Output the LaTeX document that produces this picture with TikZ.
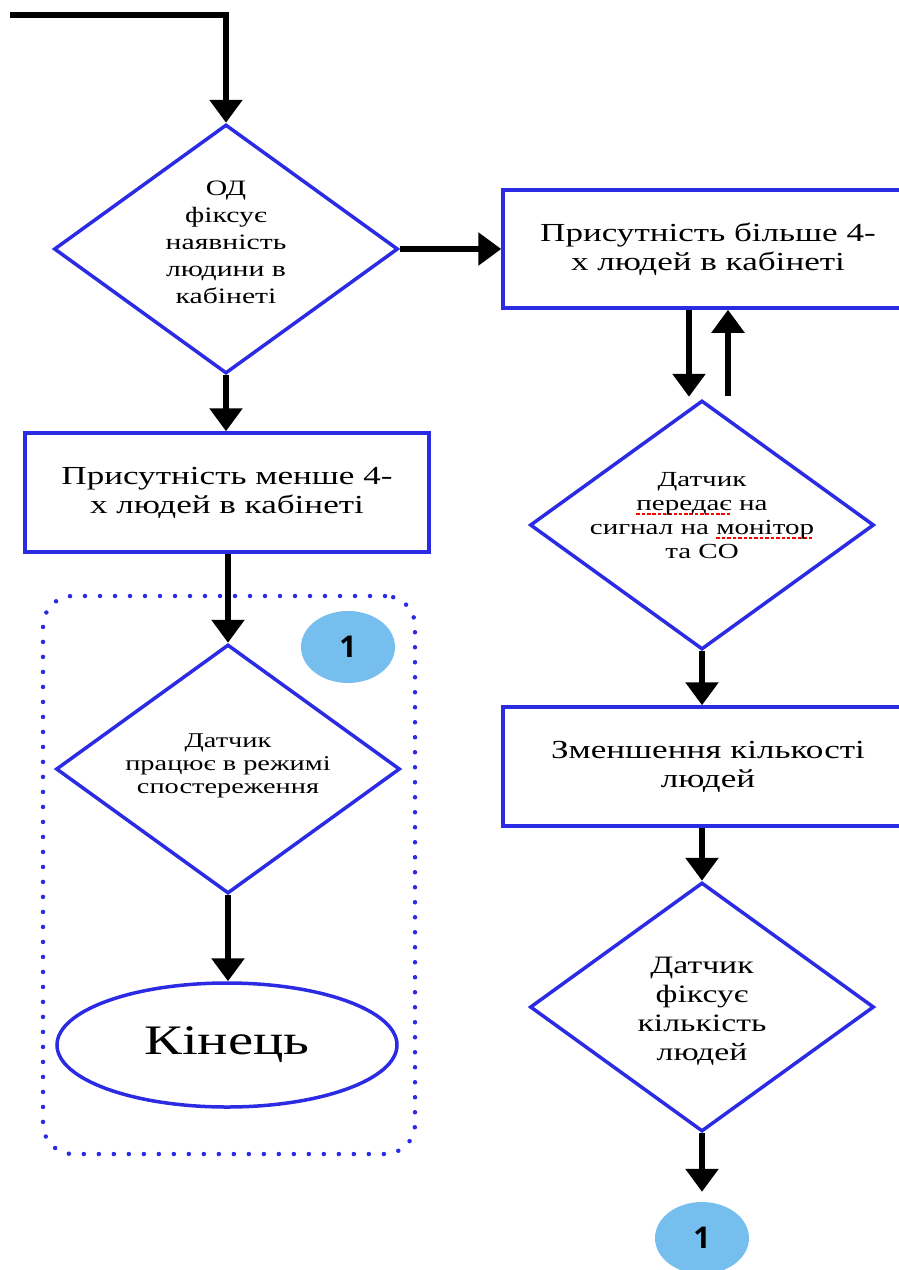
\documentclass[tikz,border=0pt]{standalone}
\usepackage{fontspec}
\setmainfont[FakeStretch=1.35]{Liberation Serif}
\newfontfamily\numfont{Open Sans}
\usetikzlibrary{arrows.meta,shapes.geometric}
\definecolor{frame}{HTML}{2B2BE3}
\definecolor{bubble}{HTML}{75BEEE}
% red spell-check dashes under a word
\newsavebox\spellbox
\newcommand\spellmark[1]{\sbox\spellbox{#1}\rlap{\color{red}\hbox to \wd\spellbox{\xleaders\hbox{\rule[-4pt]{3.5pt}{1.6pt}\kern1.8pt}\hfil}}\usebox\spellbox}

\begin{document}
\begin{tikzpicture}[x=1pt,y=-1pt,
  arr/.style={line width=6pt,-{Triangle[width=32pt,length=23pt]}},
  stepbox/.style={draw=frame,line width=3.5pt,rectangle,minimum height=119pt,inner sep=0pt,
    align=center,font=\fontsize{26}{29}\selectfont},
  dec/.style={draw=frame,line width=3.5pt,diamond,minimum width=344pt,minimum height=249pt,inner sep=0pt},
  txt/.style={align=center,inner sep=0pt},
  conn/.style={ellipse,fill=bubble,minimum width=94pt,minimum height=72pt,inner sep=0pt,
    font=\numfont\bfseries\fontsize{30}{30}\selectfont},
  grp/.style={draw=frame,line width=4.5pt,rounded corners=30pt,dash pattern=on 0pt off 15pt,line cap=round}
]
\useasboundingbox (0,0) rectangle (899,1270);

% grouping frame on the left
\node[grp,minimum width=372pt,minimum height=558pt] (grp) at (229,875) {};

% left column
\coordinate (start) at (10,15);
\node[dec,label={[txt,yshift=7pt,font=\fontsize{22}{27}\selectfont]center:{ОД\\фіксує\\наявність\\людини в\\кабінеті}}] (d1) at (226,249) {};
\node[stepbox,minimum width=404pt] (box1) at (227,492.5) {Присутність менше 4-\\х людей в кабінеті};
\node[dec,label={[txt,yshift=3pt,font=\fontsize{21}{23}\selectfont]center:{Датчик\\працює в режимі\\спостереження}}] (d4) at (228,769) {};
\node[ellipse,draw=frame,line width=3.5pt,minimum width=340pt,minimum height=124pt,inner sep=0pt,
  font=\fontsize{42}{42}\selectfont] (endn) at (227,1045) {Кінець};
\node[conn] (c1) at (348,647) {1};

% right column
\node[stepbox,minimum width=410pt,minimum height=118pt] (box2) at (708,249) {Присутність більше 4-\\х людей в кабінеті};
\node[dec,label={[txt,yshift=9pt,font=\fontsize{21.5}{24}\selectfont]center:{Датчик\\\spellmark{передає} на\\сигнал на \spellmark{монітор}\\та СО}}] (d2) at (702,525) {};
\node[stepbox,minimum width=410pt] (box3) at (708,766.5) {Зменшення кількості\\людей};
\node[dec,label={[txt,yshift=-4pt,font=\fontsize{25}{29}\selectfont]center:{Датчик\\фіксує\\кількість\\людей}}] (d3) at (702,1007) {};
\node[conn] (c2) at (702,1238) {1};

% connectors
\draw[arr] (start) -| (d1.north);
\draw[arr] (d1.east) -- (box2.west);
\draw[arr] (d1.south) -- (d1.south |- box1.north);
\draw[arr] (box1.south -| d4.north) -- (d4.north);
\draw[arr] (d4.south) -- (d4.south |- endn.north);
\draw[arr] ([xshift=-13pt]box2.south -| d2.north) -- ([xshift=-13pt,yshift=2pt]d2.north);
\draw[arr] ([xshift=26pt,yshift=3pt]d2.north) -- ([xshift=26pt]box2.south -| d2.north);
\draw[arr] (d2.south) -- (d2.south |- box3.north);
\draw[arr] (box3.south -| d3.north) -- (d3.north);
\draw[arr] (d3.south) -- ([yshift=10pt]c2.north);
\end{tikzpicture}
\end{document}
